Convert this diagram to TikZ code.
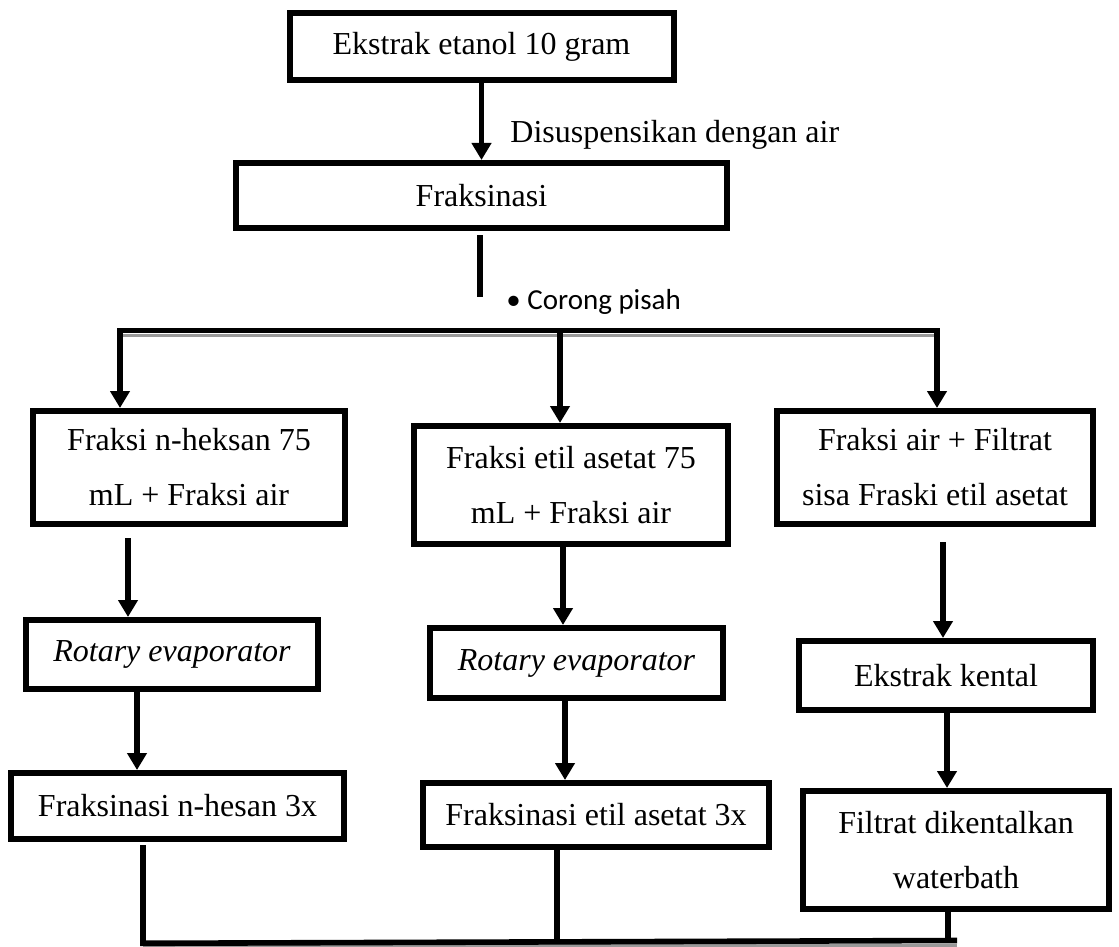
\documentclass[tikz,border=0pt]{standalone}
\usepackage{fontspec}
\setmainfont{Liberation Serif}
\newfontfamily\corongfont{Carlito}
\usetikzlibrary{arrows.meta}
\begin{document}
\begin{tikzpicture}[x=0.5pt,y=-0.5pt,
  box/.style={draw, line width=3pt, inner sep=0pt, align=center, fill=white,
    font=\fontsize{16}{27.5}\selectfont},
  arr/.style={line width=2.8pt, -{Triangle[width=9.5pt,length=8.5pt]}},
  ln/.style={line width=2.8pt},
  shadowln/.style={line width=1.6pt, black!40}]
\useasboundingbox (0,0) rectangle (1119,947);

% boxes
\node[box, minimum width=192pt, minimum height=33.5pt] (top) at (481.5,46.5) {Ekstrak etanol 10 gram};
\node[box, minimum width=245.5pt, minimum height=32.5pt] (fraks) at (481.5,195.5) {Fraksinasi};
\node[box, minimum width=156pt, minimum height=56.5pt] (b1) at (189,467.5) {Fraksi n-heksan 75\\mL + Fraksi air};
\node[box, minimum width=157pt, minimum height=59pt] (b2) at (571,485) {Fraksi etil asetat 75\\mL + Fraksi air};
\node[box, minimum width=158pt, minimum height=56.5pt] (b3) at (935,467.5) {Fraksi air + Filtrat\\sisa Fraski etil asetat};
\node[box, minimum width=146pt, minimum height=34.5pt] (rot1) at (172,654.5) {\itshape Rotary evaporator};
\node[box, minimum width=146.5pt, minimum height=35pt] (rot2) at (576.5,663) {\itshape Rotary evaporator};
\node[box, minimum width=147pt, minimum height=34.5pt] (ek) at (946,675.5) {Ekstrak kental};
\node[box, minimum width=166.5pt, minimum height=33pt] (f1) at (177.5,806) {Fraksinasi n-hesan 3x};
\node[box, minimum width=173pt, minimum height=32pt] (f2) at (596,815) {Fraksinasi etil asetat 3x};
\node[box, minimum width=153pt, minimum height=59pt] (filt) at (956,850) {Filtrat dikentalkan\\waterbath};

% labels
\node[anchor=west, inner sep=0pt, font=\fontsize{16}{19}\selectfont] (lab) at (510,135) {Disuspensikan dengan air};
\node[anchor=west, inner sep=0pt, font=\corongfont\fontsize{14.5}{17}\selectfont] (cor) at (506,302) {\textbullet\ Corong pisah};

% top part
\draw[arr] (top.south) -- (fraks.north);
\coordinate (c1) at (480,297);
\draw[ln] ([yshift=-2pt]fraks.south -| c1) -- (c1);

% distribution bar
\coordinate (L) at (120,330.5);
\coordinate (M) at (560,330.5);
\coordinate (R) at (937,330.5);
\draw[shadowln] ([yshift=-2.4pt]L) -- ([yshift=-2.4pt]R);
\draw[ln] ([xshift=-1.4pt]L) -- ([xshift=1.4pt]R);
\draw[arr] (L) -- (L |- b1.north);
\draw[arr] (M) -- (M |- b2.north);
\draw[arr] (R) -- (R |- b3.north);

% column arrows
\coordinate (s1) at (128,538);
\draw[arr] (s1) -- (s1 |- rot1.north);
\coordinate (s2) at (137,0);
\draw[arr] (rot1.south -| s2) -- (f1.north -| s2);
\coordinate (s3) at (563,0);
\draw[arr] (b2.south -| s3) -- (rot2.north -| s3);
\coordinate (s4) at (565,0);
\draw[arr] (rot2.south -| s4) -- (f2.north -| s4);
\coordinate (s5) at (943,542);
\draw[arr] (s5) -- (s5 |- ek.north);
\coordinate (s6) at (947,0);
\draw[arr] (ek.south -| s6) -- (filt.north -| s6);

% bottom collector
\coordinate (BL) at (143,940.5);
\coordinate (BM) at (557,940.5);
\coordinate (BR) at (957,940.5);
\coordinate (t3) at (948,940.5);
\draw[shadowln] ([yshift=-2.4pt]BL) -- ([yshift=-2.4pt]BR);
\draw[ln] ([yshift=-1.5pt]f1.south -| BL) -- ([yshift=-1.4pt]BL) -- (BR);
\draw[ln] (f2.south -| BM) -- (BM);
\draw[ln] (filt.south -| t3) -- (t3);
\end{tikzpicture}
\end{document}
